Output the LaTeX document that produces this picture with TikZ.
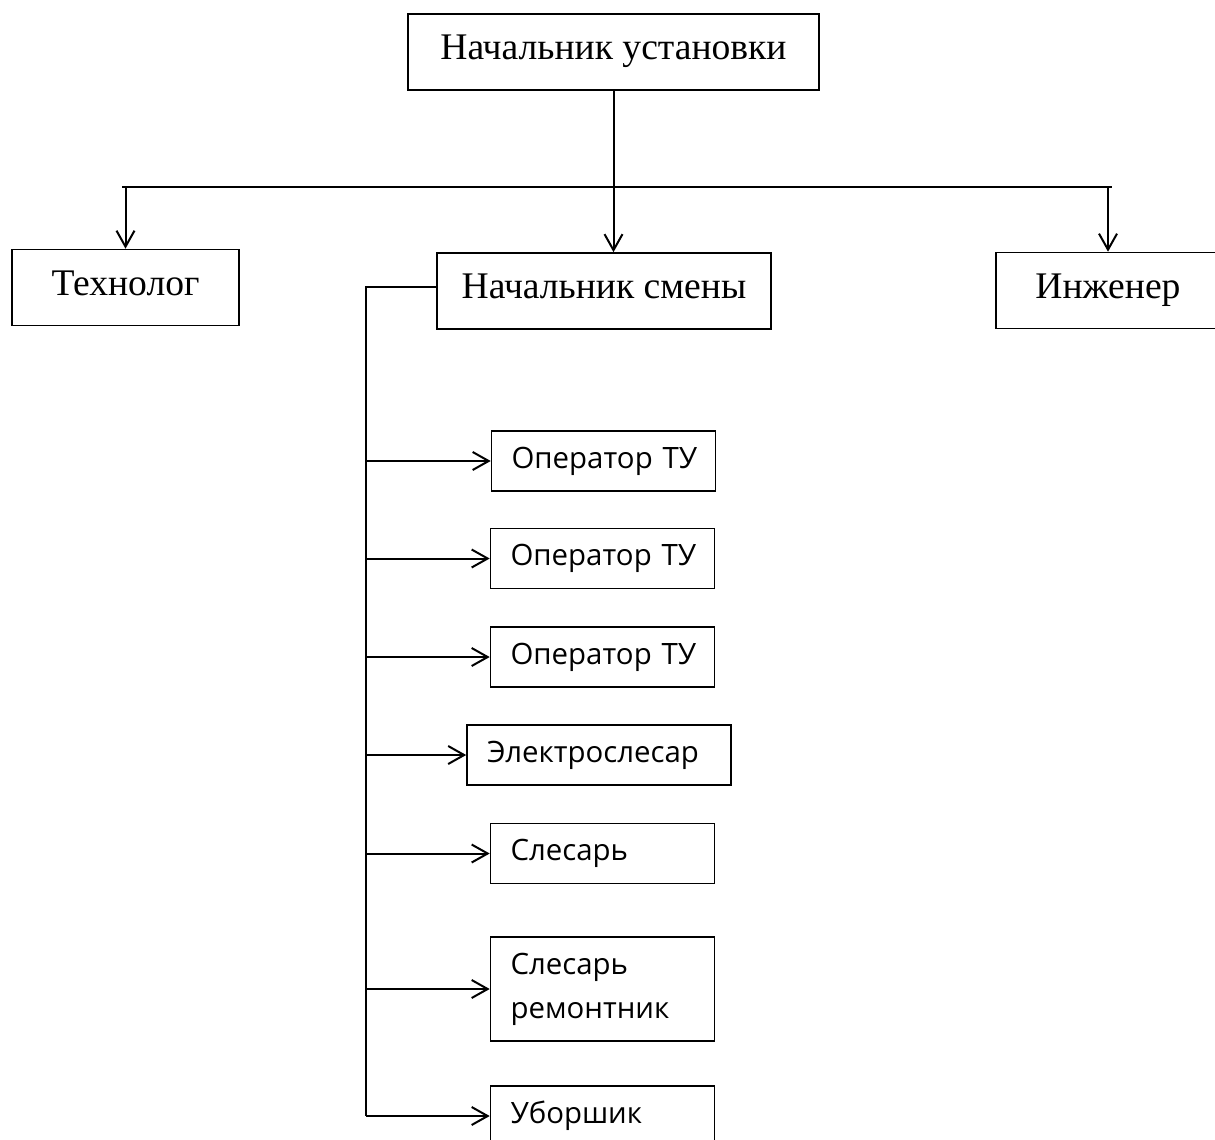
\documentclass[tikz,border=0pt]{standalone}
\usepackage{fontspec}
\setmainfont{Liberation Serif}
\newfontfamily\boxfont{Open Sans}
\usepackage{tikz}
\usetikzlibrary{arrows.meta}

\begin{document}
\begin{tikzpicture}[
    x=0.5pt,
    y=0.5pt,
    headbox/.style={
      draw=black,
      line width=0.8pt,
      minimum height=38pt,
      inner sep=0pt,
      text height=13pt,
      text depth=5.5pt,
      font=\fontsize{18.8}{22}\selectfont,
    },
    staffbox/.style={
      draw=black,
      line width=0.8pt,
      minimum height=30pt,
      inner xsep=10pt,
      inner ysep=0pt,
      text width=92pt,
      align=left,
      font=\boxfont\fontsize{14.7}{22}\selectfont,
    },
    link/.style={color=black, line width=1pt},
    >={Straight Barb[length=8pt, width=9pt]},
  ]
  \useasboundingbox (0, 0) rectangle (1215, -1140);

  % top level
  \node[headbox, minimum width=205.5pt] (chief) at (613.5, -52) {Начальник установки};
  \node[headbox, minimum width=113.5pt] (techn) at (125.5, -287.5) {Технолог};
  \node[headbox, minimum width=167pt] (shift) at (604, -291) {Начальник смены};
  \node[headbox, minimum width=112pt] (engin) at (1108, -290.5) {Инженер};

  % staff of the shift
  \node[staffbox] (op1) at (603.5, -461) {Оператор~ТУ};
  \node[staffbox] (op2) at (602.5, -558.5) {Оператор~ТУ};
  \node[staffbox] (op3) at (602.5, -657) {Оператор~ТУ};
  \node[staffbox, text width=112pt] (elec) at (599, -755) {Электрослесар};
  \node[staffbox] (fitter) at (602.5, -853.5) {Слесарь};
  \node[staffbox, minimum height=52pt] (repair) at (602.5, -989) {Слесарь\\ремонтник};
  \node[staffbox] (clean) at (602.5, -1116) {Уборшик};

  % bus under the chief
  \coordinate (busL) at (122, -187);
  \coordinate (busR) at (1112, -187);
  \draw[link] (chief.south) -- (chief.south |- busL);
  \draw[link, line width=1.4pt] (busL) -- (busR);
  \draw[link, ->] (techn.north |- busL) -- (techn.north);
  \draw[link, ->] (chief.south |- busL) -- (chief.south |- shift.north);
  \draw[link, ->] (engin.north |- busL) -- (engin.north);

  % trunk on the left
  \coordinate (trunk) at (366, -287);
  \draw[link] (shift.west |- trunk) -- (trunk) -- (trunk |- clean.west);
  \foreach \n in {op1, op2, op3, elec, fitter, repair, clean}
    \draw[link, ->] (trunk |- \n.west) -- (\n.west);
\end{tikzpicture}
\end{document}
